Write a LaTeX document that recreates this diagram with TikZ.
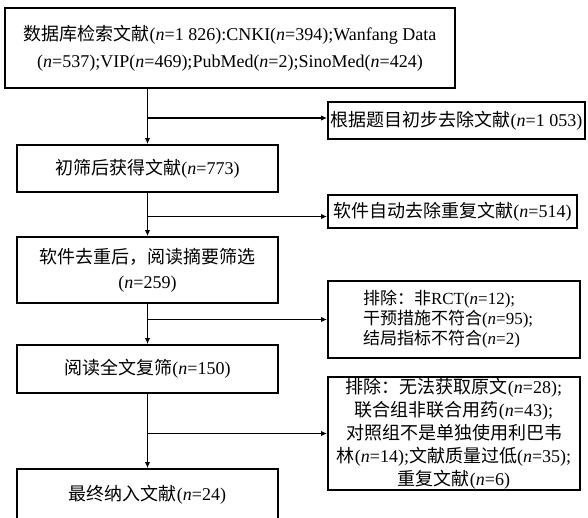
\documentclass[tikz,border=0pt]{standalone}
\usepackage{fontspec}
\setmainfont{Liberation Serif}
\newfontfamily\zhfont{Noto Sans CJK SC}
\newcommand{\zh}[1]{{\zhfont #1}}
\newcommand{\nn}{\textit{n}}
\usetikzlibrary{arrows.meta}
\tikzset{
	flowbox/.style={draw, line width=1.9pt, align=center, inner sep=0pt, font=\fontsize{18}{27}\selectfont},
	arr/.style={line width=1.9pt, -{Latex[length=6pt,width=5.5pt]}}
}

\begin{document}
\begin{tikzpicture}[x=1pt,y=-1pt]
	\useasboundingbox (0,0) rectangle (588,517);
	
	\node[flowbox, minimum width=450pt, minimum height=80pt] (search) at (230,48)
	{\zh{数据库检索文献}(\nn=1~826):CNKI(\nn=394);Wanfang Data\\(\nn=537);VIP(\nn=469);PubMed(\nn=2);SinoMed(\nn=424)};
	
	\node[flowbox, minimum width=257pt, minimum height=37pt] (title) at (456.5,120.5)
	{\zh{根据题目初步去除文献}(\nn=1~053)};
	
	\node[flowbox, minimum width=261pt, minimum height=47pt] (screen) at (147.5,168.5)
	{\zh{初筛后获得文献}(\nn=773)};
	
	\node[flowbox, minimum width=249pt, minimum height=33pt] (dup) at (452.5,211.5)
	{\zh{软件自动去除重复文献}(\nn=514)};
	
	\node[flowbox, minimum width=261pt, minimum height=66pt, font=\fontsize{18}{25}\selectfont] (abstr) at (147.5,270)
	{\zh{软件去重后，阅读摘要筛选}\\(\nn=259)};
	
	\node[flowbox, minimum width=252pt, minimum height=77pt, text width=182pt, align=left, font=\fontsize{17}{20}\selectfont] (rct) at (454,319.5)
	{\zh{排除：非}RCT(\nn=12);\\\zh{干预措施不符合}(\nn=95);\\\zh{结局指标不符合}(\nn=2)};
	
	\node[flowbox, minimum width=261pt, minimum height=48pt] (full) at (147.5,369)
	{\zh{阅读全文复筛}(\nn=150)};
	
	\node[flowbox, minimum width=252pt, minimum height=113pt, font=\fontsize{18}{23}\selectfont] (excl) at (454,433.5)
	{\zh{排除：无法获取原文}(\nn=28);\\\zh{联合组非联合用药}(\nn=43);\\\zh{对照组不是单独使用利巴韦}\\\zh{林}(\nn=14);\zh{文献质量过低}(\nn=35);\\\zh{重复文献}(\nn=6)};
	
	\node[flowbox, minimum width=261pt, minimum height=51pt] (final) at (147.5,494.5)
	{\zh{最终纳入文献}(\nn=24)};
	
	\coordinate (e1) at ([yshift=2.5pt]title.west);
	\coordinate (e2) at ([yshift=-5pt]dup.west);
	
	\draw[arr] (search.south -| screen.north) -- (screen.north);
	\draw[arr] (screen.north |- e1) -- (e1);
	\draw[arr] (screen.south) -- (abstr.north);
	\draw[arr] (screen.south |- e2) -- (e2);
	\draw[arr] (abstr.south) -- (full.north);
	\draw[arr] (abstr.south |- rct.west) -- (rct.west);
	\draw[arr] (full.south) -- (final.north);
	\draw[arr] (full.south |- excl.west) -- (excl.west);
\end{tikzpicture}
\end{document}
